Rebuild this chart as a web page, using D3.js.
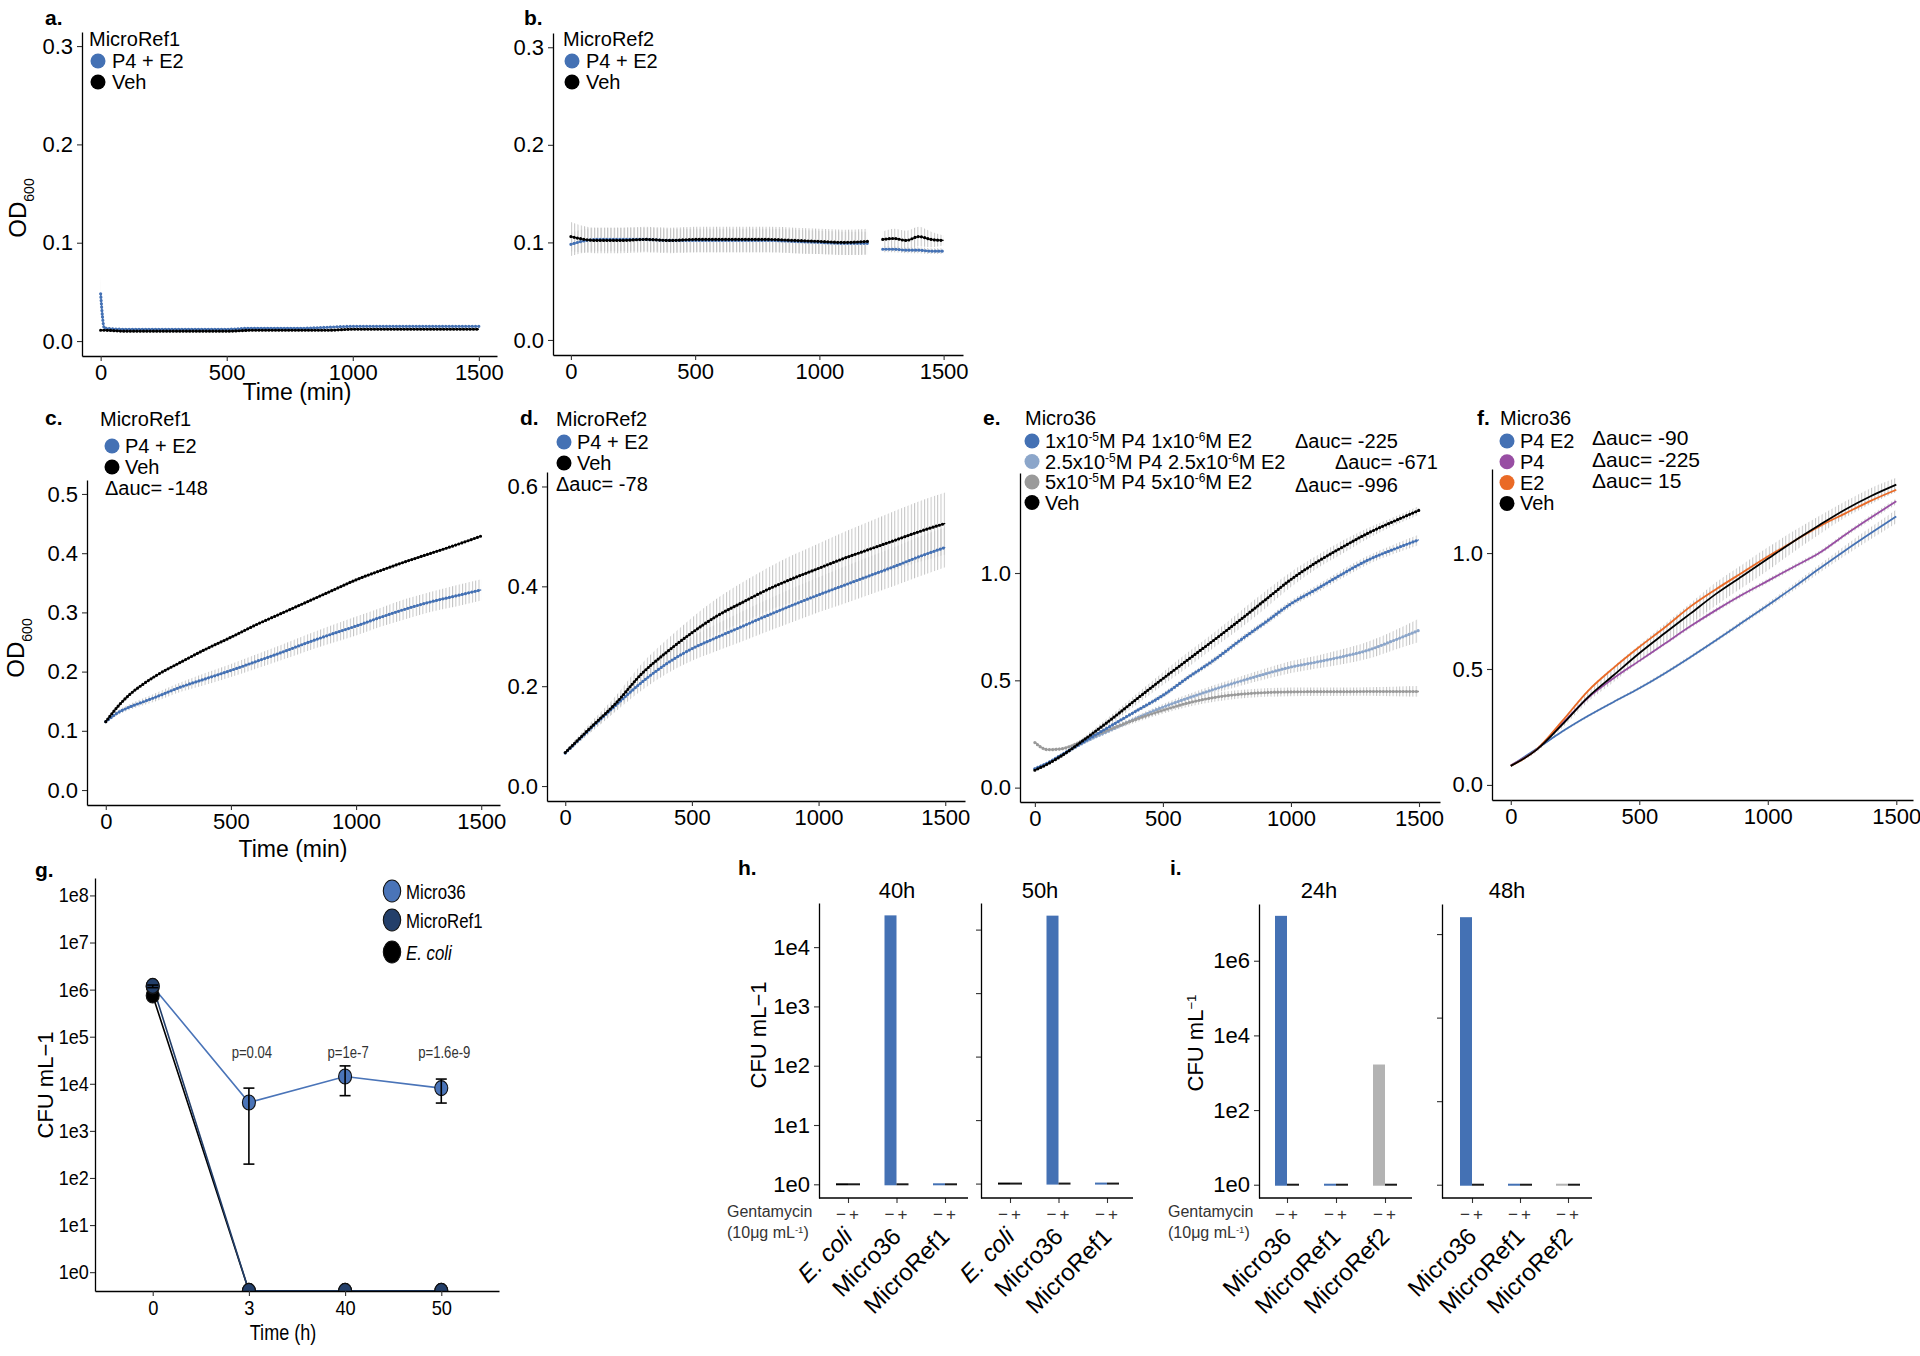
<!DOCTYPE html>
<html>
<head>
<meta charset="utf-8">
<script src="https://cdn.jsdelivr.net/npm/d3@7"></script>
<style>
body { margin: 0; background: #fff; }
svg { font-family: "Liberation Sans", Arial, Helvetica, sans-serif; }
</style>
</head>
<body>
<script>
/* ---------- data: growth curves (OD600 vs time, min) ---------- */
var timesA = [0, 15, 100, 200, 300, 400, 500, 600, 700, 800, 900, 1000, 1100, 1200, 1300, 1400, 1500];
var p4e2A = [0.048, 0.013, 0.012, 0.012, 0.012, 0.012, 0.012, 0.013, 0.013, 0.013, 0.014, 0.015, 0.015, 0.015, 0.015, 0.015, 0.015];
var p4e2AErr = [0.018, 0.002, 0.001, 0.001, 0.001, 0.001, 0.001, 0.001, 0.001, 0.001, 0.001, 0.001, 0.001, 0.001, 0.001, 0.001, 0.001];
var vehA = [0.011, 0.011, 0.010, 0.010, 0.010, 0.010, 0.010, 0.011, 0.011, 0.011, 0.011, 0.012, 0.012, 0.012, 0.012, 0.012, 0.012];
var vehAErr = [0.001, 0.001, 0.001, 0.001, 0.001, 0.001, 0.001, 0.001, 0.001, 0.001, 0.001, 0.001, 0.001, 0.001, 0.001, 0.001, 0.001];

var timesB = [0, 100, 200, 300, 400, 500, 600, 700, 800, 900, 1000, 1100, 1195, 1225, 1255, 1300, 1350, 1400, 1450, 1500];
var p4e2B = [0.098, 0.103, 0.103, 0.103, 0.102, 0.102, 0.102, 0.102, 0.102, 0.101, 0.100, 0.099, 0.099, null, 0.093, 0.093, 0.092, 0.092, 0.091, 0.091];
var p4e2BErr = [0.012, 0.012, 0.012, 0.012, 0.012, 0.012, 0.012, 0.012, 0.012, 0.012, 0.012, 0.012, 0.012, null, 0.003, 0.003, 0.003, 0.003, 0.003, 0.003];
var vehB = [0.106, 0.102, 0.102, 0.103, 0.102, 0.103, 0.103, 0.103, 0.103, 0.102, 0.101, 0.100, 0.101, null, 0.103, 0.104, 0.102, 0.106, 0.103, 0.102];
var vehBErr = [0.015, 0.013, 0.013, 0.013, 0.013, 0.013, 0.013, 0.013, 0.013, 0.013, 0.013, 0.013, 0.013, null, 0.008, 0.010, 0.010, 0.010, 0.008, 0.005];

var timesC = [0, 50, 100, 150, 200, 300, 400, 500, 600, 700, 800, 900, 1000, 1100, 1200, 1300, 1400, 1500];
var p4e2C = [0.1155, 0.131, 0.141, 0.149, 0.157, 0.174, 0.188, 0.202, 0.217, 0.232, 0.248, 0.263, 0.277, 0.292, 0.306, 0.318, 0.328, 0.338];
var p4e2CErr = [0.003, 0.004, 0.005, 0.006, 0.007, 0.008, 0.010, 0.011, 0.012, 0.013, 0.014, 0.015, 0.016, 0.016, 0.017, 0.017, 0.018, 0.018];
var vehC = [0.1155, 0.142, 0.163, 0.179, 0.193, 0.216, 0.238, 0.258, 0.279, 0.298, 0.317, 0.336, 0.355, 0.371, 0.386, 0.400, 0.414, 0.429];
var vehCErr = [0.002, 0.002, 0.002, 0.002, 0.002, 0.002, 0.002, 0.002, 0.002, 0.002, 0.002, 0.002, 0.002, 0.002, 0.002, 0.002, 0.002, 0.002];

var timesD = [0, 100, 200, 300, 400, 500, 600, 700, 800, 900, 1000, 1100, 1200, 1300, 1400, 1500];
var p4e2D = [0.066, 0.115, 0.162, 0.207, 0.245, 0.275, 0.298, 0.320, 0.342, 0.363, 0.383, 0.402, 0.421, 0.440, 0.460, 0.478];
var p4e2DErr = [0.003, 0.008, 0.012, 0.016, 0.020, 0.024, 0.027, 0.030, 0.032, 0.034, 0.035, 0.037, 0.038, 0.039, 0.040, 0.040];
var vehD = [0.067, 0.117, 0.166, 0.224, 0.268, 0.307, 0.341, 0.368, 0.394, 0.416, 0.436, 0.456, 0.474, 0.492, 0.510, 0.526];
var vehDErr = [0.004, 0.010, 0.015, 0.020, 0.025, 0.030, 0.035, 0.040, 0.043, 0.047, 0.050, 0.053, 0.056, 0.059, 0.061, 0.062];

var timesE = [0, 50, 100, 200, 300, 400, 500, 600, 700, 800, 900, 1000, 1100, 1200, 1300, 1400, 1500];
var lowE = [0.088, 0.115, 0.150, 0.220, 0.290, 0.360, 0.430, 0.515, 0.595, 0.685, 0.770, 0.857, 0.925, 0.995, 1.060, 1.110, 1.155];
var lowEErr = [0.005, 0.005, 0.006, 0.008, 0.010, 0.010, 0.012, 0.012, 0.014, 0.015, 0.015, 0.016, 0.018, 0.020, 0.020, 0.022, 0.025];
var midE = [0.088, 0.115, 0.148, 0.215, 0.270, 0.325, 0.375, 0.418, 0.458, 0.495, 0.530, 0.562, 0.585, 0.610, 0.640, 0.685, 0.733];
var midEErr = [0.005, 0.005, 0.006, 0.008, 0.010, 0.012, 0.015, 0.018, 0.020, 0.022, 0.025, 0.028, 0.030, 0.035, 0.040, 0.045, 0.055];
var highE = [0.210, 0.177, 0.180, 0.225, 0.275, 0.320, 0.360, 0.395, 0.420, 0.435, 0.443, 0.446, 0.447, 0.447, 0.448, 0.448, 0.448];
var highEErr = [0.008, 0.008, 0.008, 0.010, 0.012, 0.014, 0.016, 0.018, 0.020, 0.020, 0.020, 0.020, 0.020, 0.020, 0.020, 0.022, 0.025];
var vehE = [0.081, 0.110, 0.145, 0.230, 0.320, 0.415, 0.508, 0.598, 0.688, 0.780, 0.875, 0.970, 1.050, 1.120, 1.185, 1.240, 1.292];
var vehEErr = [0.005, 0.008, 0.010, 0.015, 0.020, 0.025, 0.030, 0.035, 0.035, 0.040, 0.040, 0.035, 0.030, 0.030, 0.025, 0.020, 0.020];

var timesF = [0, 100, 200, 300, 400, 500, 600, 700, 800, 900, 1000, 1100, 1200, 1300, 1400, 1500];
var p4e2F = [0.082, 0.155, 0.230, 0.297, 0.358, 0.417, 0.482, 0.552, 0.625, 0.700, 0.775, 0.852, 0.932, 1.010, 1.085, 1.158];
var p4e2FErr = [0.003, 0.004, 0.005, 0.006, 0.006, 0.007, 0.008, 0.008, 0.009, 0.010, 0.012, 0.015, 0.018, 0.022, 0.026, 0.030];
var p4F = [0.085, 0.152, 0.265, 0.375, 0.460, 0.535, 0.610, 0.685, 0.755, 0.820, 0.880, 0.940, 1.000, 1.078, 1.152, 1.223];
var p4FErr = [0.003, 0.004, 0.005, 0.006, 0.007, 0.008, 0.008, 0.009, 0.010, 0.010, 0.010, 0.010, 0.010, 0.010, 0.012, 0.012];
var e2F = [0.082, 0.152, 0.275, 0.405, 0.505, 0.595, 0.680, 0.770, 0.845, 0.915, 0.985, 1.050, 1.115, 1.170, 1.225, 1.273];
var e2FErr = [0.003, 0.004, 0.005, 0.006, 0.007, 0.008, 0.008, 0.009, 0.010, 0.010, 0.010, 0.010, 0.010, 0.010, 0.010, 0.010];
var vehF = [0.082, 0.151, 0.260, 0.378, 0.473, 0.568, 0.655, 0.740, 0.825, 0.900, 0.975, 1.050, 1.120, 1.187, 1.245, 1.295];
var vehFErr = [0.005, 0.010, 0.015, 0.020, 0.030, 0.035, 0.040, 0.045, 0.050, 0.050, 0.050, 0.045, 0.040, 0.035, 0.035, 0.030];

var legendTwo = ["P4 + E2", "Veh"];
var legendE = ["1x10^{-5}M P4 1x10^{-6}M E2", "2.5x10^{-5}M P4 2.5x10^{-6}M E2", "5x10^{-5}M P4 5x10^{-6}M E2", "Veh"];
var legendF = ["P4 E2", "P4", "E2", "Veh"];
var aucC = [-148];
var aucD = [-78];
var aucE = [-225, -671, -996];
var aucF = [-90, -225, 15];
var timeTicks = [0, 500, 1000, 1500];

/* ---------- data: CFU time course (panel g) ---------- */
var cfuTimes = ["0", "3", "40", "50"];
var cfuStrains = ["Micro36", "MicroRef1", "E. coli"];
var micro36Cfu = [1.17e6, 4.0e3, 1.43e4, 8.1e3];
var micro36Lo = [1.1e6, 197, 5.6e3, 3.9e3];
var micro36Hi = [1.25e6, 8.1e3, 2.4e4, 1.26e4];
var microRef1Cfu = [1.2e6, 0.4, 0.4, 0.4];
var ecoliCfu = [7.5e5, 0.4, 0.4, 0.4];
var pLabels = ["", "p=0.04", "p=1e-7", "p=1.6e-9"];

/* ---------- data: gentamycin protection (panels h, i) ---------- */
var hCats = ["E. coli", "Micro36", "MicroRef1"];
var h40Minus = [1, 33000, 1];
var h40Plus = [1, 1, 1];
var h50Minus = [1, 16000, 1];
var h50Plus = [1, 1, 1];
var iCats = ["Micro36", "MicroRef1", "MicroRef2"];
var i24Minus = [1.5e7, 1, 1560];
var i24Plus = [1, 1, 1];
var i48Minus = [2.4e6, 1, 1];
var i48Plus = [1, 1, 1];

/* ---------- colours ---------- */
var BLUE = "#4471b4", LBLUE = "#8ca6ca", GREY = "#9a9a9a", PURPLE = "#984ea3",
    ORANGE = "#ea6a26", BLACK = "#000000", NAVY = "#233f6a", LGREY = "#b3b3b3";

var svg = d3.select("body").append("svg").attr("width", 1920).attr("height", 1356);
var defs = svg.append("defs");
defs.append("pattern").attr("id", "vbars").attr("patternUnits", "userSpaceOnUse")
  .attr("width", 3.3).attr("height", 20)
  .append("rect").attr("width", 1).attr("height", 20).attr("fill", "#c4c4c4");

/*text with ^{..} superscripts*/
function rich(text, str) {
  var parts = str.split(/\^\{([^}]*)\}/);
  parts.forEach(function (p, i) {
    if (!p) return;
    var t = text.append("tspan").text(p);
    if (i % 2 == 1) t.attr("baseline-shift", "super").attr("font-size", "60%");
  });
  return text;
}

function styleAxis(a, size) {
  a.attr("font-family", null);
  a.select(".domain").attr("stroke", "#000").attr("stroke-width", 1.3);
  a.selectAll(".tick line").attr("stroke", "#333").attr("stroke-width", 1.1);
  a.selectAll(".tick text").attr("font-size", size).attr("fill", "#000");
}

/*panel g was squeezed sideways in the original figure*/
function squashText(parent, x, y, s, str) {
  return parent.append("text").attr("transform", "translate(" + x + "," + y + ") scale(" + s + ",1)").text(str);
}

function panelLetter(x, y, s) {
  svg.append("text").attr("x", x).attr("y", y).attr("font-size", 21)
    .attr("font-weight", "bold").text(s);
}

/*growth curve panel with dotted lines and error bars*/
function growth(p) {
  var g = svg.append("g");
  var x = d3.scaleLinear().domain(p.xd).range([p.left, p.right]);
  var y = d3.scaleLinear().domain(p.yd).range([p.bottom, p.top]);
  var idx = d3.range(p.times.length);
  p.series.forEach(function (s) {
    var area = d3.area().defined(function (i) { return s.vals[i] != null; })
      .x(function (i) { return x(p.times[i]); })
      .y0(function (i) { return y(s.vals[i] - s.err[i]); })
      .y1(function (i) { return y(s.vals[i] + s.err[i]); })
      .curve(d3.curveMonotoneX);
    g.append("path").attr("d", area(idx)).attr("fill", "url(#vbars)");
  });
  p.series.forEach(function (s) {
    var line = d3.line().defined(function (i) { return s.vals[i] != null; })
      .x(function (i) { return x(p.times[i]); })
      .y(function (i) { return y(s.vals[i]); })
      .curve(d3.curveMonotoneX);
    g.append("path").attr("d", line(idx)).attr("fill", "none")
      .attr("stroke", s.color).attr("stroke-width", p.thin ? 1.8 : 1.3);
    if (!p.thin) {
      g.append("path").attr("d", line(idx)).attr("fill", "none")
        .attr("stroke", s.color).attr("stroke-width", 3.2)
        .attr("stroke-linecap", "round").attr("stroke-dasharray", "0,3.3");
    }
  });
  var ax = d3.axisBottom(x).tickValues(timeTicks).tickFormat(d3.format("d"))
    .tickSize(5).tickSizeOuter(0).tickPadding(3);
  var ay = d3.axisLeft(y).tickValues(p.yticks).tickFormat(d3.format(".1f"))
    .tickSize(5).tickSizeOuter(0).tickPadding(4);
  styleAxis(g.append("g").attr("transform", "translate(0," + p.bottom + ")").call(ax), 22);
  styleAxis(g.append("g").attr("transform", "translate(" + p.left + ",0)").call(ay), 22);
  if (p.xlab) {
    g.append("text").attr("x", p.xlab[0]).attr("y", p.xlab[1]).attr("text-anchor", "middle")
      .attr("font-size", 23).text("Time (min)");
  }
  if (p.ylab) {
    var t = g.append("text").attr("transform", "translate(" + p.ylab[0] + "," + p.ylab[1] + ") rotate(-90)")
      .attr("text-anchor", "middle").attr("font-size", 24);
    t.append("tspan").text("OD");
    t.append("tspan").attr("baseline-shift", "sub").attr("font-size", 14).text("600");
  }
}

function legend(L) {
  var g = svg.append("g");
  g.append("text").attr("x", L.x).attr("y", L.titleY).attr("font-size", 20).text(L.title);
  L.labels.forEach(function (lab, i) {
    var cy = L.y0 + i * L.dy;
    g.append("circle").attr("cx", L.cx).attr("cy", cy).attr("r", 7.5).attr("fill", L.colors[i]);
    rich(g.append("text").attr("x", L.tx).attr("y", cy + 7).attr("font-size", 20), lab);
  });
  (L.auc || []).forEach(function (v, i) {
    g.append("text").attr("x", L.aucX[i]).attr("y", L.aucY[i]).attr("font-size", L.aucSize || 20)
      .text("\u0394auc= " + v);
  });
}

/* ---------- panels a - f ---------- */
growth({left: 82, right: 497, top: 32, bottom: 356, xd: [-74, 1572], yd: [-0.0152, 0.3143],
  yticks: [0, 0.1, 0.2, 0.3], times: timesA, xlab: [297, 400], ylab: [26, 208],
  series: [{vals: p4e2A, err: p4e2AErr, color: BLUE}, {vals: vehA, err: vehAErr, color: BLACK}]});
growth({left: 553, right: 963, top: 33, bottom: 355, xd: [-72, 1578], yd: [-0.0154, 0.3146],
  yticks: [0, 0.1, 0.2, 0.3], times: timesB,
  series: [{vals: p4e2B, err: p4e2BErr, color: BLUE}, {vals: vehB, err: vehBErr, color: BLACK}]});
growth({left: 87, right: 500, top: 480, bottom: 805, xd: [-75, 1575], yd: [-0.0253, 0.5236],
  yticks: [0, 0.1, 0.2, 0.3, 0.4, 0.5], times: timesC, xlab: [293, 857], ylab: [24, 648],
  series: [{vals: p4e2C, err: p4e2CErr, color: BLUE}, {vals: vehC, err: vehCErr, color: BLACK}]});
growth({left: 547, right: 965, top: 472, bottom: 801, xd: [-72, 1578], yd: [-0.03, 0.629],
  yticks: [0, 0.2, 0.4, 0.6], times: timesD,
  series: [{vals: p4e2D, err: p4e2DErr, color: BLUE}, {vals: vehD, err: vehDErr, color: BLACK}]});
growth({left: 1020, right: 1440, top: 473, bottom: 802, xd: [-58, 1582], yd: [-0.067, 1.466],
  yticks: [0, 0.5, 1.0], times: timesE,
  series: [{vals: midE, err: midEErr, color: LBLUE}, {vals: highE, err: highEErr, color: GREY},
           {vals: lowE, err: lowEErr, color: BLUE}, {vals: vehE, err: vehEErr, color: BLACK}]});
growth({left: 1492, right: 1913, top: 469, bottom: 800, xd: [-73, 1565], yd: [-0.065, 1.3625],
  yticks: [0, 0.5, 1.0], times: timesF, thin: true,
  series: [{vals: p4e2F, err: p4e2FErr, color: BLUE}, {vals: p4F, err: p4FErr, color: PURPLE},
           {vals: e2F, err: e2FErr, color: ORANGE}, {vals: vehF, err: vehFErr, color: BLACK}]});

legend({x: 89, titleY: 46, title: "MicroRef1", cx: 98, tx: 112, y0: 61, dy: 21,
  labels: legendTwo, colors: [BLUE, BLACK]});
legend({x: 563, titleY: 46, title: "MicroRef2", cx: 572, tx: 586, y0: 61, dy: 21,
  labels: legendTwo, colors: [BLUE, BLACK]});
legend({x: 100, titleY: 426, title: "MicroRef1", cx: 112, tx: 125, y0: 446, dy: 21,
  labels: legendTwo, colors: [BLUE, BLACK], auc: aucC, aucX: [105], aucY: [495]});
legend({x: 556, titleY: 426, title: "MicroRef2", cx: 564, tx: 577, y0: 442, dy: 21,
  labels: legendTwo, colors: [BLUE, BLACK], auc: aucD, aucX: [556], aucY: [491]});
legend({x: 1025, titleY: 425, title: "Micro36", cx: 1032, tx: 1045, y0: 441, dy: 20.5,
  labels: legendE, colors: [BLUE, LBLUE, GREY, BLACK],
  auc: aucE, aucX: [1295, 1335, 1295], aucY: [448, 469, 492]});
legend({x: 1500, titleY: 425, title: "Micro36", cx: 1507, tx: 1520, y0: 441, dy: 20.8,
  labels: legendF, colors: [BLUE, PURPLE, ORANGE, BLACK],
  auc: aucF, aucX: [1592, 1592, 1592], aucY: [445, 467, 488], aucSize: 21});

panelLetter(45, 25, "a.");
panelLetter(524, 25, "b.");
panelLetter(45, 425, "c.");
panelLetter(520, 425, "d.");
panelLetter(983, 425, "e.");
panelLetter(1477, 425, "f.");

/* ---------- panel g ---------- */
(function () {
  var left = 95, right = 499, top = 878, bottom = 1291;
  var g = svg.append("g");
  var x = d3.scalePoint().domain(cfuTimes).range([left, right]).padding(0.6);
  var y = d3.scaleLog().domain([Math.pow(10, -0.4), Math.pow(10, 8.37)]).range([bottom, top]);
  defs.append("clipPath").attr("id", "gclip").append("rect")
    .attr("x", left).attr("y", top).attr("width", right - left).attr("height", bottom - top);
  var plot = g.append("g").attr("clip-path", "url(#gclip)");
  var series = [
    {vals: micro36Cfu, color: "#4a74b8"},
    {vals: ecoliCfu, color: BLACK},
    {vals: microRef1Cfu, color: NAVY}
  ];
  var line = d3.line().x(function (d, i) { return x(cfuTimes[i]); }).y(function (d) { return y(d); });
  series.forEach(function (s) {
    plot.append("path").attr("d", line(s.vals)).attr("fill", "none")
      .attr("stroke", s.color).attr("stroke-width", 1.6);
  });
  [series[1], series[0], series[2]].forEach(function (s) {
    plot.selectAll(null).data(s.vals).enter().append("ellipse")
      .attr("cx", function (d, i) { return x(cfuTimes[i]); })
      .attr("cy", function (d) { return y(d); })
      .attr("rx", 6.5).attr("ry", 7.5)
      .attr("fill", s.color).attr("stroke", "#111").attr("stroke-width", 1.1);
  });
  /*error bars for Micro36*/
  cfuTimes.forEach(function (t, i) {
    var cx = x(t);
    plot.append("line").attr("x1", cx).attr("x2", cx).attr("y1", y(micro36Lo[i])).attr("y2", y(micro36Hi[i]))
      .attr("stroke", "#000").attr("stroke-width", 1.6);
    [micro36Lo[i], micro36Hi[i]].forEach(function (v) {
      plot.append("line").attr("x1", cx - 5.5).attr("x2", cx + 5.5).attr("y1", y(v)).attr("y2", y(v))
        .attr("stroke", "#000").attr("stroke-width", 1.6);
    });
    if (pLabels[i]) {
      squashText(g, cx + 3, 1058, 0.82, pLabels[i]).attr("text-anchor", "middle")
        .attr("font-size", 16).attr("fill", "#333");
    }
  });
  var ay = d3.axisLeft(y).tickValues([1, 10, 100, 1e3, 1e4, 1e5, 1e6, 1e7, 1e8])
    .tickFormat(function (d) { return "1e" + Math.round(Math.log10(d)); })
    .tickSize(5).tickSizeOuter(0).tickPadding(2);
  var ax = d3.axisBottom(x).tickSize(5).tickSizeOuter(0).tickPadding(4);
  var ayg = g.append("g").attr("transform", "translate(" + left + ",0)").call(ay);
  styleAxis(ayg, 20);
  ayg.selectAll(".tick text").attr("transform", "scale(0.9,1)");
  var axg = g.append("g").attr("transform", "translate(0," + bottom + ")").call(ax);
  styleAxis(axg, 21);
  axg.selectAll(".tick text").attr("transform", "scale(0.87,1)");
  squashText(g, 283, 1340, 0.82, "Time (h)").attr("text-anchor", "middle").attr("font-size", 22);
  g.append("text").attr("transform", "translate(53,1085) rotate(-90)").attr("text-anchor", "middle")
    .attr("font-size", 22).text("CFU mL\u22121");
  var legCols = ["#4a74b8", NAVY, BLACK];
  cfuStrains.forEach(function (s, i) {
    var cy = [891, 920, 952][i];
    g.append("ellipse").attr("cx", 392).attr("cy", cy).attr("rx", 8.7).attr("ry", 11)
      .attr("fill", legCols[i]).attr("stroke", "#111").attr("stroke-width", 1.1);
    squashText(g, 406, cy + 8, 0.8, s).attr("font-size", 21)
      .attr("font-style", s == "E. coli" ? "italic" : null);
  });
  panelLetter(35, 877, "g.");
})();

/* ---------- panels h, i ---------- */
function facet(f) {
  var g = svg.append("g");
  var x = d3.scalePoint().domain(f.cats).range([f.c0, f.c1]);
  var y = d3.scaleLog().domain(f.yd).range([f.bottom, f.top]);
  var bw = 12;
  f.cats.forEach(function (c, i) {
    [[f.minus[i], f.minusCol[i], -bw], [f.plus[i], "#1a1a1a", 0]].forEach(function (b) {
      var yv = y(b[0]), y1 = y(1);
      g.append("rect").attr("x", x(c) + b[2]).attr("y", yv - 1)
        .attr("width", bw).attr("height", Math.max(y1 - yv, 0) + 2).attr("fill", b[1]);
    });
    g.append("text").attr("x", x(c) - 7).attr("y", 1220).attr("text-anchor", "middle")
      .attr("font-size", 17).attr("fill", "#333").text("\u2212");
    g.append("text").attr("x", x(c) + 6).attr("y", 1220).attr("text-anchor", "middle")
      .attr("font-size", 17).attr("fill", "#333").text("+");
    g.append("text").attr("transform", "translate(" + (x(c) + 6) + ",1238) rotate(-45)")
      .attr("text-anchor", "end").attr("font-size", 24)
      .attr("font-style", c == "E. coli" ? "italic" : null).text(c);
  });
  var ay = d3.axisLeft(y).tickValues(f.yticks)
    .tickFormat(function (d) { return f.labels ? "1e" + Math.round(Math.log10(d)) : ""; })
    .tickSize(5).tickSizeOuter(0).tickPadding(4);
  styleAxis(g.append("g").attr("transform", "translate(" + f.left + ",0)").call(ay), 22);
  var ax = d3.axisBottom(x).tickSize(5).tickSizeOuter(0).tickFormat("");
  var axg = g.append("g").attr("transform", "translate(0," + f.bottom + ")").call(ax);
  styleAxis(axg, 16);
  axg.select(".domain").remove();
  g.append("line").attr("x1", f.left).attr("x2", f.right).attr("y1", f.bottom).attr("y2", f.bottom)
    .attr("stroke", "#000").attr("stroke-width", 1.3);
  g.append("text").attr("x", f.titleX).attr("y", 898).attr("text-anchor", "middle")
    .attr("font-size", 22).text(f.title);
}

function gentaLabel(x) {
  svg.append("text").attr("x", x).attr("y", 1217).attr("font-size", 16).attr("fill", "#333").text("Gentamycin");
  rich(svg.append("text").attr("x", x).attr("y", 1238).attr("font-size", 16).attr("fill", "#333"),
    "(10\u03bcg mL^{-1})");
}

facet({cats: hCats, minus: h40Minus, plus: h40Plus, minusCol: [BLACK, BLUE, BLUE],
  left: 819, right: 968, c0: 848, c1: 945, top: 903, bottom: 1198,
  yd: [Math.pow(10, -0.231), Math.pow(10, 4.744)], yticks: [1, 10, 100, 1e3, 1e4], labels: true,
  title: "40h", titleX: 897});
facet({cats: hCats, minus: h50Minus, plus: h50Plus, minusCol: [BLACK, BLUE, BLUE],
  left: 981, right: 1133, c0: 1010, c1: 1107, top: 903, bottom: 1198,
  yd: [Math.pow(10, -0.227), Math.pow(10, 4.419)], yticks: [1, 10, 100, 1e3, 1e4], labels: false,
  title: "50h", titleX: 1040});
facet({cats: iCats, minus: i24Minus, plus: i24Plus, minusCol: [BLUE, BLUE, LGREY],
  left: 1259, right: 1412, c0: 1287, c1: 1385, top: 904, bottom: 1198,
  yd: [Math.pow(10, -0.356), Math.pow(10, 7.52)], yticks: [1, 100, 1e4, 1e6], labels: true,
  title: "24h", titleX: 1319});
facet({cats: iCats, minus: i48Minus, plus: i48Plus, minusCol: [BLUE, BLUE, LGREY],
  left: 1442, right: 1592, c0: 1472, c1: 1568, top: 904, bottom: 1198,
  yd: [Math.pow(10, -0.318), Math.pow(10, 6.72)], yticks: [1, 100, 1e4, 1e6], labels: false,
  title: "48h", titleX: 1507});

svg.append("text").attr("transform", "translate(766,1035) rotate(-90)").attr("text-anchor", "middle")
  .attr("font-size", 22).text("CFU mL\u22121");
rich(svg.append("text").attr("transform", "translate(1203,1043) rotate(-90)").attr("text-anchor", "middle")
  .attr("font-size", 22), "CFU mL^{\u22121}");
gentaLabel(727);
gentaLabel(1168);
panelLetter(738, 875, "h.");
panelLetter(1170, 875, "i.");
</script>
</body>
</html>
